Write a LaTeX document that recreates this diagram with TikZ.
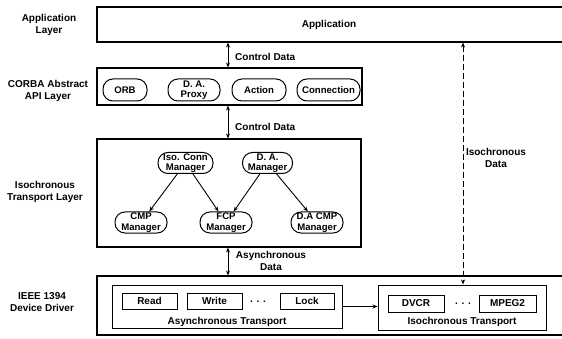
\documentclass[tikz,border=0pt]{standalone}
\usepackage{fontspec}
\setmainfont{Liberation Sans}
\usetikzlibrary{arrows.meta}
\begin{document}
\begin{tikzpicture}[x=1pt,y=-1pt,
  every node/.style={font=\bfseries\fontsize{10}{12.5}\selectfont, align=center, inner sep=0pt},
  box/.style={draw, line width=1.1pt, minimum width=#1},
  oval/.style={draw, line width=1pt, rounded corners=10pt, minimum height=21pt, minimum width=#1,
    font=\bfseries\fontsize{9.6}{10.5}\selectfont},
  rbox/.style={draw, line width=1pt, minimum width=#1, minimum height=16pt},
  arr/.style={line width=0.9pt, -{Stealth[length=5pt,width=4pt]}},
  darr/.style={line width=0.9pt, {Stealth[length=5pt,width=4pt]}-{Stealth[length=5pt,width=4pt]}}
]
\useasboundingbox (0,0) rectangle (562,339);

% left layer labels
\node (l1) at (49,25) {Application\\Layer};
\node (l2) at (48,91) {CORBA Abstract\\API Layer};
\node (l3) at (45,192) {Isochronous\\Transport Layer};
\node (l4) at (42,302) {IEEE 1394\\Device Driver};

% application layer
\node[box=473, minimum height=35] (appbox) at (333.5,24.5) {};
\node (apptext) at (329,25) {Application};

% CORBA layer
\node[box=265, minimum height=37] (corba) at (229.5,86.5) {};
\node[oval=44, minimum height=22] (orb) at (125,90) {ORB};
\node[oval=52, minimum height=22] (proxy) at (194,90) {D. A.\\Proxy};
\node[oval=54, minimum height=22] (action) at (259,90) {Action};
\node[oval=63, minimum height=22] (conn) at (328.5,90) {Connection};

% isochronous transport layer
\node[box=264, minimum height=108] (iso) at (229,193) {};
\node[oval=55] (isoconn) at (185.5,163) {Iso. Conn\\Manager};
\node[oval=50] (dam) at (267.5,163) {D. A.\\Manager};
\node[oval=52] (cmp) at (141,222.5) {CMP\\Manager};
\node[oval=52] (fcp) at (226,222.5) {FCP\\Manager};
\node[oval=52] (dacmp) at (317,222.5) {D.A CMP\\Manager};

\draw[arr] (isoconn) -- (cmp);
\draw[arr] (isoconn) -- (fcp);
\draw[arr] (dam) -- (fcp);
\draw[arr] (dam) -- (dacmp);

% device driver
\node[box=473, minimum height=59] (dev) at (333.5,305.5) {};
\node[box=230, minimum height=43, line width=1pt] (async) at (227,306.5) {};
\node[box=168, minimum height=45, line width=1pt] (isot) at (462,307.5) {};
\node[rbox=55] (read) at (149.5,301) {Read};
\node[rbox=55] (write) at (214.5,301) {Write};
\node (dots1) at (258,302) {. . .};
\node[rbox=54] (lock) at (307,301) {Lock};
\node (asynclbl) at (227,322) {Asynchronous Transport};
\node[rbox=56, minimum height=17] (dvcr) at (416,303.5) {DVCR};
\node (dots2) at (463,304) {. . .};
\node[rbox=57, minimum height=17] (mpeg) at (507.5,303.5) {MPEG2};
\node (isotlbl) at (462,322) {Isochronous Transport};

\draw[arr] (async.east) -- (async.east -| isot.west);

% vertical connectors
\coordinate (ax) at (228,0);
\coordinate (dx) at (463,0);
\draw[darr] (appbox.south -| ax) -- (corba.north -| ax);
\draw[darr] (corba.south -| ax) -- (iso.north -| ax);
\draw[darr] (iso.south -| ax) -- (dev.north -| ax);
\draw[darr, dashed, dash pattern=on 6pt off 3pt] (appbox.south -| dx) -- (isot.north -| dx);

\node[anchor=west] (cd1) at (235,57) {Control Data};
\node[anchor=west] (cd2) at (235,127) {Control Data};
\node (ad) at (271,261) {Asynchronous\\Data};
\node (idata) at (496,158) {Isochronous\\Data};
\end{tikzpicture}
\end{document}
